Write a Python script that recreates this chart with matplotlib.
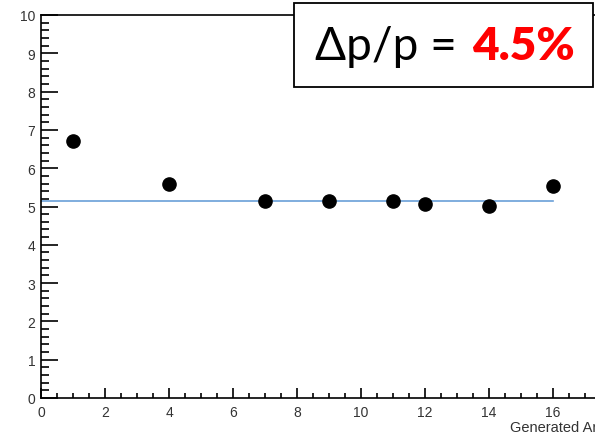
import matplotlib
matplotlib.use("Agg")
import matplotlib.pyplot as plt
from matplotlib.ticker import MultipleLocator
from matplotlib.patches import Rectangle

# Data
angles = [1, 4, 7, 9, 11, 12, 14, 16]
resolution = [6.70, 5.59, 5.14, 5.15, 5.14, 5.07, 5.02, 5.54]
fit_x = [0, 16]
fit_level = 5.15
x_label = "Generated Angle"
box_text = "\u0394p/p = "
box_value = "4.5%"

W, H = 595, 439
fig = plt.figure(figsize=(W / 100, H / 100), dpi=100)
ax = fig.add_axes([41 / W, 40 / H, 554 / W, 383 / H])

ax.plot(angles, resolution, "o", color="black", markersize=9.5, zorder=3)
ax.plot(fit_x, [fit_level, fit_level], color="#6a9fd8", linewidth=1.2, zorder=2)

ax.set_xlim(0, 17.31)
ax.set_ylim(0, 10)
ax.xaxis.set_major_locator(MultipleLocator(2))
ax.xaxis.set_minor_locator(MultipleLocator(0.5))
ax.yaxis.set_major_locator(MultipleLocator(1))
ax.yaxis.set_minor_locator(MultipleLocator(0.2))

for s in ["left", "bottom", "top"]:
    ax.spines[s].set_linewidth(1.2)
ax.spines["right"].set_visible(False)
ax.tick_params(axis="y", which="major", direction="in", length=12, width=1.2, pad=4,
               labelsize=10, labelcolor="#333333")
ax.tick_params(axis="y", which="minor", direction="in", length=6, width=1.2)
ax.tick_params(axis="x", which="major", direction="in", length=7.5, width=1.2, pad=5,
               labelsize=10, labelcolor="#333333")
ax.tick_params(axis="x", which="minor", direction="in", length=3.8, width=1.2)
for lab in ax.get_xticklabels() + ax.get_yticklabels():
    lab.set_family("Liberation Sans")

fig.text(510 / W, 1 - 428 / H, x_label, fontsize=10.5, color="#333333",
         family="Liberation Sans", va="center", ha="left")

# Annotation box
rect = Rectangle((294 / W, 1 - 88 / H), 299 / W, 84 / H, transform=fig.transFigure,
                 facecolor="white", edgecolor="black", linewidth=1.3, zorder=10)
fig.add_artist(rect)
fig.text(315 / W, 1 - 47 / H, box_text, fontsize=33, family="Lato",
         va="center", ha="left", color="black", zorder=11)
fig.text(472 / W, 1 - 47 / H, box_value, fontsize=33, family="Lato", fontweight="heavy",
         va="center", ha="left", color="#ff0000", zorder=11)

fig.savefig("out.png", dpi=100)
